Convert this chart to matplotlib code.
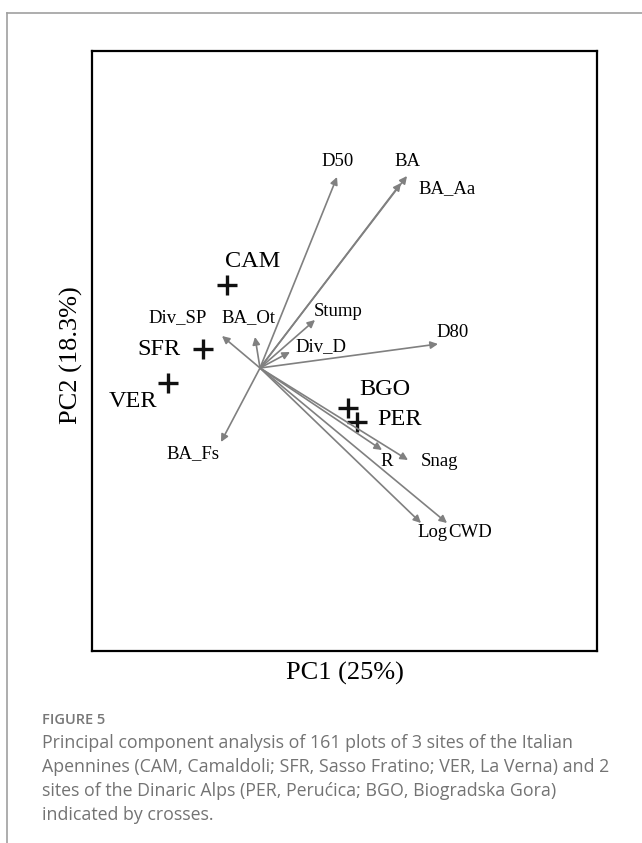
import matplotlib
matplotlib.use("Agg")
import matplotlib.pyplot as plt
from matplotlib.lines import Line2D

# variable loadings (arrow tips) and label anchors
variables = ["D50", "BA", "BA_Aa", "Stump", "Div_D", "D80", "Div_SP", "BA_Ot",
             "BA_Fs", "R", "Snag", "Log", "CWD"]
load_x = [0.77, 1.47, 1.41, 0.55, 0.30, 1.78, -0.38, -0.05, -0.39, 1.22, 1.48, 1.61, 1.87]
load_y = [1.91, 1.92, 1.85, 0.48, 0.16, 0.24, 0.32, 0.31, -0.74, -0.82, -0.92, -1.55, -1.55]
lab_x = [0.78, 1.47, 1.87, 0.78, 0.61, 1.93, -0.82, -0.12, -0.67, 1.27, 1.80, 1.73, 2.10]
lab_y = [2.06, 2.06, 1.79, 0.56, 0.21, 0.35, 0.50, 0.50, -0.86, -0.94, -0.94, -1.65, -1.65]

# site centroids (crosses)
sites = ["CAM", "SFR", "VER", "BGO", "PER"]
site_x = [-0.33, -0.57, -0.92, 0.88, 0.97]
site_y = [0.83, 0.19, -0.15, -0.40, -0.54]
site_lab_x = [-0.07, -1.01, -1.27, 1.25, 1.40]
site_lab_y = [1.06, 0.18, -0.34, -0.22, -0.52]

serif = "Liberation Serif"
grey = "#808080"

fig = plt.figure(figsize=(6.42, 8.43), dpi=100)
ax = fig.add_axes([92/642, 1-651/843, 505/642, 600/843])
ax.set_xlim(-1.68, 3.37)
ax.set_ylim(-2.83, 3.17)
ax.set_xticks([])
ax.set_yticks([])
for s in ax.spines.values():
    s.set_linewidth(1.6)
    s.set_color("black")

for i in range(len(variables)):
    ax.annotate("", xy=(load_x[i], load_y[i]), xytext=(0, 0),
                arrowprops=dict(arrowstyle="-|>", color=grey, lw=1.2,
                                mutation_scale=11, shrinkA=0, shrinkB=0))
    ax.text(lab_x[i], lab_y[i], variables[i], fontsize=13.5, family=serif,
            ha="center", va="center")

ax.plot(site_x, site_y, linestyle="none", marker="+", markersize=14,
        markeredgewidth=2.4, color="#111111")
for i in range(len(sites)):
    ax.text(site_lab_x[i], site_lab_y[i], sites[i], fontsize=17.5, family=serif,
            ha="center", va="center")

fig.text(345/642, 1-673/843, "PC1 (25%)", fontsize=19, family=serif,
         ha="center", va="center")
fig.text(71/642, 1-355/843, "PC2 (18.3%)", fontsize=19, family=serif,
         ha="center", va="center", rotation=90)

# card border (top and left)
fig.add_artist(Line2D([7/642, 1], [1-13/843, 1-13/843], color="#a0a0a0", lw=1.2))
fig.add_artist(Line2D([7/642, 7/642], [1-13/843, 0], color="#a0a0a0", lw=1.2))

fig.text(42/642, 1-720/843, "FIGURE 5", fontsize=10.5, family="Open Sans",
         weight="semibold", color="#777777", ha="left", va="center")
caption = ["Principal component analysis of 161 plots of 3 sites of the Italian",
           "Apennines (CAM, Camaldoli; SFR, Sasso Fratino; VER, La Verna) and 2",
           "sites of the Dinaric Alps (PER, Perućica; BGO, Biogradska Gora)",
           "indicated by crosses."]
for k, line in enumerate(caption):
    fig.text(42/642, 1-(743+24*k)/843, line, fontsize=12.8, family="Open Sans",
             color="#737373", ha="left", va="center")

fig.savefig("out.png", dpi=100)
